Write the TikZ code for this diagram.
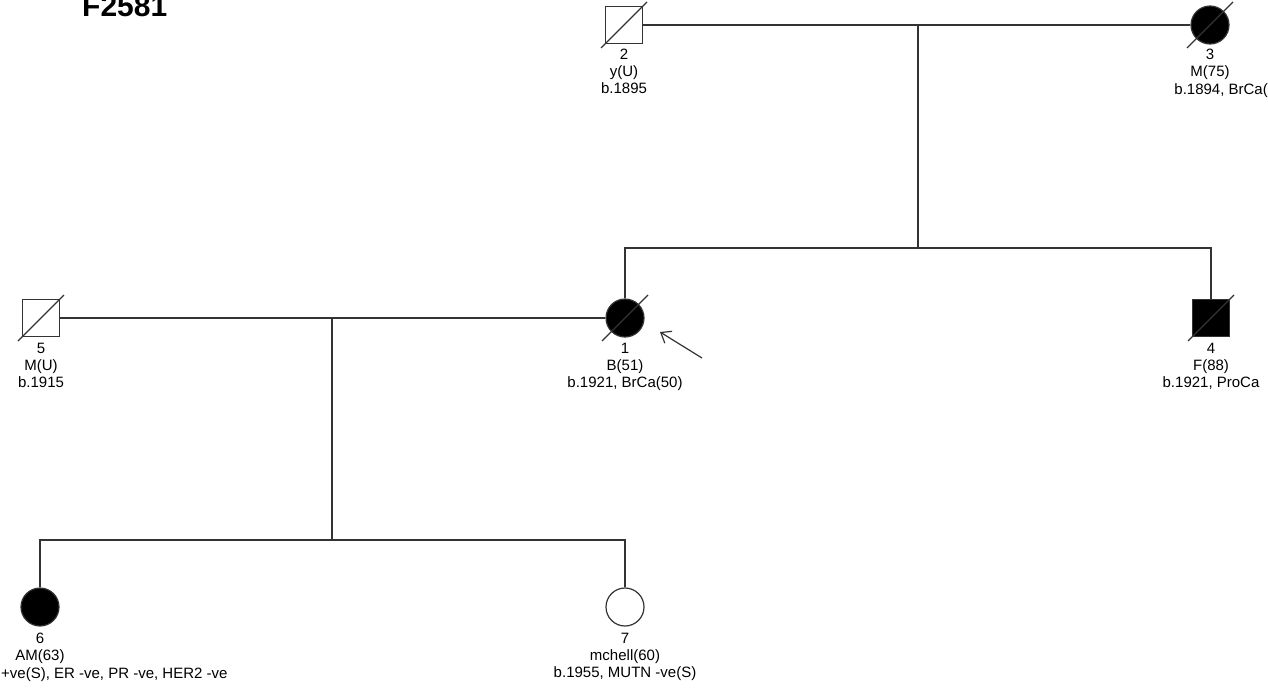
\documentclass[tikz,border=0pt]{standalone}
\usepackage{fontspec}
\setmainfont{Liberation Sans}
\usetikzlibrary{arrows.meta}
\begin{document}
\begin{tikzpicture}[x=1pt,y=-1pt,
  line/.style={draw=black!80,line width=1.2pt},
  male/.style={rectangle,line,minimum size=37pt,inner sep=0pt},
  female/.style={circle,line,minimum size=38pt,inner sep=0pt},
  affected/.style={fill=black},
  lbl/.style={anchor=north,align=center,font=\fontsize{15}{17}\selectfont,inner sep=0pt},
  slash/.style={draw=black!80,line width=1.2pt}
]
\useasboundingbox (0,0) rectangle (1268,694);
\fill[white] (0,0) rectangle (1268,694);
\node[anchor=base west,inner sep=0pt,font=\fontsize{30}{30}\selectfont\bfseries] (title) at (82,16) {F2581};

% generation I
\node[male] (n2) at (624,25) {};
\node[female,affected] (n3) at (1210,25) {};
% generation II
\node[female,affected] (n1) at (625,318) {};
\node[male,affected] (n4) at (1211,318) {};
\node[male] (n5) at (41,318) {};
% generation III
\node[female,affected] (n6) at (40,607) {};
\node[female] (n7) at (625,607) {};

% deceased slashes
\foreach \n in {n2,n3,n1,n4,n5}{
  \draw[slash] ([shift={(-23,23)}]\n.center) -- ([shift={(23,-23)}]\n.center);
}

% coordinates
\coordinate (m23) at (918,25);
\coordinate (s23) at (918,248);
\coordinate (m51) at (332,318);
\coordinate (s51) at (332,540);

% connectors
\draw[line] (n2) -- (n3);
\draw[line] (m23) -- (s23);
\draw[line] (n1) -- (n1 |- s23) -- (n4 |- s23) -- (n4);
\draw[line] (n5) -- (n1);
\draw[line] (m51) -- (s51);
\draw[line] (n6) -- (n6 |- s51) -- (n7 |- s51) -- (n7);

% labels
\node[lbl] (l2) at (624,49) {2\\y(U)\\b.1895};
\node[lbl] (l3) at (1210,49) {3\\M(75)};
\node[lbl,anchor=north east] (l3b) at (1268,83) {b.1894, BrCa(};
\node[lbl] (l1) at (625,343) {1\\B(51)\\b.1921, BrCa(50)};
\node[lbl] (l4) at (1211,343) {4\\F(88)\\b.1921, ProCa};
\node[lbl] (l5) at (41,343) {5\\M(U)\\b.1915};
\node[lbl] (l6) at (40,633) {6\\AM(63)};
\node[lbl,anchor=north west] (l6b) at (1,667) {+ve(S), ER -ve, PR -ve, HER2 -ve};
\node[lbl] (l7) at (625,633) {7\\mchell(60)\\b.1955, MUTN -ve(S)};

% proband arrow
\coordinate (arrtail) at (702,358);
\coordinate (arrhead) at (660,332);
\draw[line,-{Straight Barb[length=9pt,width=14pt]}] (arrtail) -- (arrhead);
\end{tikzpicture}
\end{document}
